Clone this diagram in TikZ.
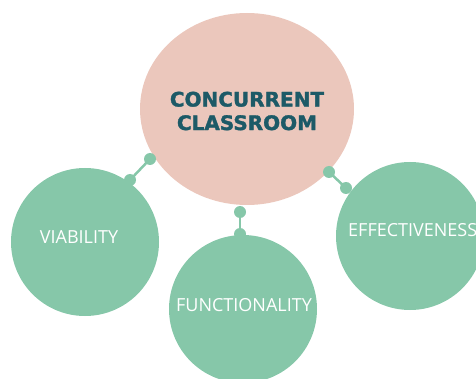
\documentclass[tikz,border=0pt]{standalone}
\usepackage{fontspec}
\setmainfont{Open Sans}
\newfontfamily\titlefont[FakeBold=1.6]{DejaVu Sans Bold}
\usetikzlibrary{shapes.geometric}
\definecolor{pinkfill}{HTML}{EBC7BC}
\definecolor{greenfill}{HTML}{86C7A9}
\definecolor{tealtext}{HTML}{1D5A67}
\tikzset{
  bubble/.style={circle, fill=greenfill, draw=none, minimum size=148pt, inner sep=0pt},
  bubbletext/.style={text=white, font=\fontsize{18}{20}\selectfont, inner sep=0pt},
  knob/.style={circle, fill=greenfill, draw=none, minimum size=12pt, inner sep=0pt},
  link/.style={draw=greenfill, line width=2.5pt},
}
\begin{document}
\begin{tikzpicture}[x=1pt,y=-1pt]
\useasboundingbox (0,0) rectangle (476,379);
\clip (0,0) rectangle (476,379);
% main ellipse
\node[ellipse, fill=pinkfill, draw=none, minimum width=214pt, minimum height=192pt, inner sep=0pt] (main) at (247,109) {};
\node[text=tealtext, font=\titlefont\fontsize{20}{23.5}\selectfont, align=center, inner sep=0pt] (title) at (247,111) {CONCURRENT\\CLASSROOM};
% bubbles
\node[bubble] (via) at (85,242) {};
\node[bubble] (func) at (243,309) {};
\node[bubble] (eff) at (410,236) {};
\node[bubbletext] (vialabel) at (79,237) {VIABILITY};
\node[bubbletext] (funclabel) at (244,305) {FUNCTIONALITY};
\node[bubbletext, anchor=west] (efflabel) at (348,230) {EFFECTIVENESS};
% connectors
\coordinate (c1a) at (150,159);
\coordinate (c1b) at (130,180);
\coordinate (c2a) at (240,212);
\coordinate (c2b) at (240,234);
\coordinate (c3a) at (329,172);
\coordinate (c3b) at (346,188);
\draw[link] (c1a) -- (c1b);
\draw[link] (c2a) -- (c2b);
\draw[link] (c3a) -- (c3b);
\node[knob] (k1a) at (c1a) {};
\node[knob] (k1b) at (c1b) {};
\node[knob] (k2a) at (c2a) {};
\node[knob] (k2b) at (c2b) {};
\node[knob] (k3a) at (c3a) {};
\node[knob] (k3b) at (c3b) {};
\end{tikzpicture}
\end{document}
